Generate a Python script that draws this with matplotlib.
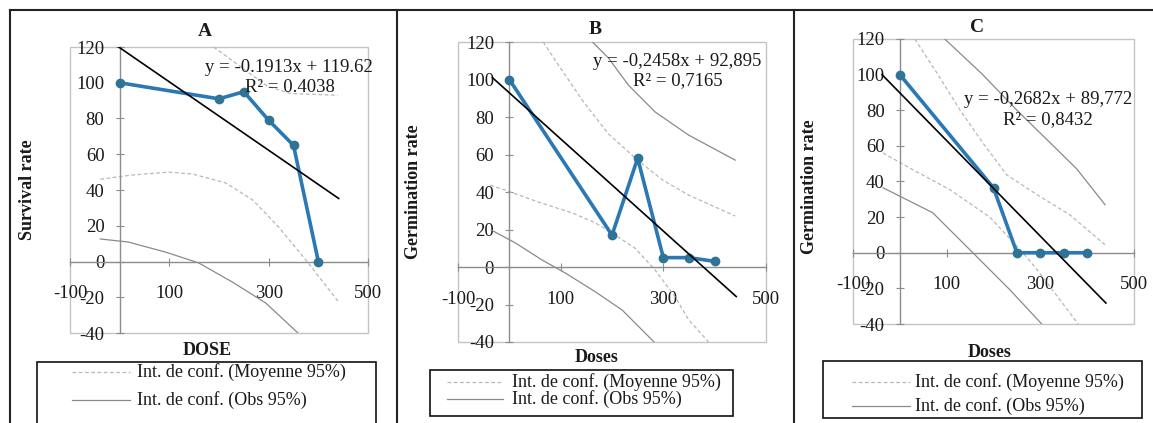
import matplotlib

matplotlib.use("Agg")
import matplotlib.pyplot as plt  # noqa: E402
import numpy as np  # noqa: E402
from matplotlib.lines import Line2D  # noqa: E402
from matplotlib.patches import Rectangle  # noqa: E402

W, H = 1153, 423
DPI = 100
plt.rcParams["font.family"] = ["Liberation Serif", "DejaVu Serif"]
plt.rcParams["axes.unicode_minus"] = False

BLUE = "#2A78B4"
MARK = "#2F7396"
OBS = "#8A8A8A"
MEAN = "#B8B8B8"
AXIS = "#8C8C8C"
FRAME = "#C4C4C4"
INK = "#1a1a1a"

# ---- data ----
doses = [0, 200, 250, 300, 350, 400]
survival_a = [100, 91, 95, 79, 65, 0]
germ_b = [100, 17, 58, 5, 5, 3]
germ_c = [100, 36.4, 0, 0, 0, 0]

# trend lines: slope, intercept, x-range drawn
trend_a = (-0.1913, 119.62, [-33, 441])
trend_b = (-0.2458, 92.895, [-33, 442])
trend_c = (-0.2682, 89.772, [-38, 440])

# confidence curves (x, y)
a_mean_up_x = [189, 209, 258, 298, 344, 439]
a_mean_up_y = [120, 116, 106, 98, 94, 93]
a_mean_lo_x = [-39, 25, 100, 146, 213, 268, 320, 375, 441]
a_mean_lo_y = [46, 48.4, 50, 49, 44, 34.4, 19.3, 0.8, -22.7]
a_obs_lo_x = [-39, 17, 92, 159, 227, 294, 359]
a_obs_lo_y = [12.6, 10.9, 5.3, -0.8, -11.5, -23.2, -40]

b_mean_up_x = [66, 90, 142, 193, 250, 298, 349, 440]
b_mean_up_y = [120, 110, 89, 71, 57, 46.5, 38.4, 27.2]
b_obs_up_x = [162, 193, 232, 284, 349, 440]
b_obs_up_y = [120, 111.5, 97, 82.7, 70.4, 57]
b_mean_lo_x = [-37, 2, 56, 123, 168, 201, 245, 284, 323, 349, 388]
b_mean_lo_y = [43.7, 40, 34.7, 28.8, 23.5, 18, 10, -1.6, -16, -28, -40]
b_obs_lo_x = [-35, 12, 64, 109, 168, 220, 282]
b_obs_lo_y = [19.7, 12.8, 3.7, -3.2, -13.3, -23, -40]

c_mean_up_x = [32, 79, 128, 177, 228, 293, 363, 438]
c_mean_up_y = [120, 101, 80.3, 61.8, 43.8, 32.6, 21.3, 4.5]
c_obs_up_x = [96, 177, 250, 320, 378, 438]
c_obs_up_y = [120, 100, 80, 62, 47, 27]
c_mean_lo_x = [-36, 28, 107, 192, 263, 293, 381]
c_mean_lo_y = [56, 46.6, 35.4, 20, 0, -9.5, -40]
c_obs_lo_x = [-36, 70, 143, 235, 303]
c_obs_lo_y = [36.5, 22.5, 3.4, -20.8, -40]

x_ticks = [-100, 100, 300, 500]
y_ticks = [-40, -20, 0, 20, 40, 60, 80, 100, 120]
LEG_MEAN = "Int. de conf. (Moyenne 95%)"
LEG_OBS = "Int. de conf. (Obs 95%)"


def fx(x):
    return x / W


def fy(y):
    return 1 - y / H


def panel(fig, box, y, trend, mean_curves, obs_curves, title, ylab, xlab, eq, pos):
    l, t, r, b = box
    ax = fig.add_axes([fx(l), fy(b), (r - l) / W, (b - t) / H])
    ax.set_xlim(-100, 500)
    ax.set_ylim(-40, 120)
    ax.patch.set_alpha(0)
    for s in ("top", "right"):
        ax.spines[s].set_visible(False)
    for s in ("left", "bottom"):
        ax.spines[s].set_position(("data", 0))
        ax.spines[s].set_color(AXIS)
        ax.spines[s].set_linewidth(1.0)
    ax.add_patch(Rectangle((0, 0), 1, 1, transform=ax.transAxes, fill=False,
                           ec=FRAME, lw=1.0, clip_on=False, zorder=0))
    ax.set_xticks(x_ticks)
    ax.set_yticks(y_ticks)
    ax.tick_params(axis="x", direction="inout", length=6, width=0.8, color=AXIS,
                   labelcolor=INK, labelsize=13.5, pad=14)
    ax.tick_params(axis="y", direction="inout", length=6, width=0.8, color=AXIS,
                   labelcolor=INK, labelsize=13.5, pad=8)

    for cx, cy in mean_curves:
        ax.plot(cx, cy, color=MEAN, lw=0.9, ls=(0, (3, 2)), zorder=2)
    for cx, cy in obs_curves:
        ax.plot(cx, cy, color=OBS, lw=0.9, zorder=2)

    m, c0, xr = trend
    xr = np.array(xr, dtype=float)
    ax.plot(xr, m * xr + c0, color="black", lw=1.2, zorder=4)
    ax.plot(doses, y, color=BLUE, lw=2.6, marker="o", ms=6, mfc=MARK, mec=MARK,
            zorder=3, clip_on=False)

    tx, ty, ylx, yly, xlx, xly, ex, ey, rx, ry = pos
    fig.text(fx(tx), fy(ty), title, ha="center", va="center", fontsize=14,
             fontweight="bold", color=INK)
    fig.text(fx(ylx), fy(yly), ylab, ha="center", va="center", rotation=90,
             fontsize=13, fontweight="bold", color=INK)
    fig.text(fx(xlx), fy(xly), xlab, ha="center", va="center", fontsize=13,
             fontweight="bold", color=INK)
    fig.text(fx(ex), fy(ey), eq[0], ha="center", va="center", fontsize=13.5, color=INK)
    fig.text(fx(rx), fy(ry), eq[1], ha="center", va="center", fontsize=13.5, color=INK)
    return ax


def legend(fig, box, line_x, text_x, rows):
    l, t, r, b = box
    fig.add_artist(Rectangle((fx(l), fy(b)), (r - l) / W, (b - t) / H,
                             transform=fig.transFigure, fill=False, ec="#111111",
                             lw=1.2))
    for (style, col, lab), ry in zip(
            [((0, (3, 2)), MEAN, LEG_MEAN), ("-", OBS, LEG_OBS)], rows):
        fig.add_artist(Line2D([fx(line_x[0]), fx(line_x[1])], [fy(ry), fy(ry)],
                              transform=fig.transFigure, color=col, lw=0.9, ls=style))
        fig.text(fx(text_x), fy(ry), lab, ha="left", va="center", fontsize=13,
                 color=INK)


fig = plt.figure(figsize=(W / DPI, H / DPI), dpi=DPI)

panel(fig, (70, 47, 368, 333), survival_a, trend_a,
      [(a_mean_up_x, a_mean_up_y), (a_mean_lo_x, a_mean_lo_y)],
      [(a_obs_lo_x, a_obs_lo_y)],
      "A", "Survival rate", "DOSE",
      ("y = -0.1913x + 119.62", "R² = 0.4038"),
      (205, 31, 28, 190, 207, 350, 289, 67, 290, 88))
legend(fig, (37, 362, 376, 440), (72, 130), 137, (372, 400))

panel(fig, (458, 42, 766, 342), germ_b, trend_b,
      [(b_mean_up_x, b_mean_up_y), (b_mean_lo_x, b_mean_lo_y)],
      [(b_obs_up_x, b_obs_up_y), (b_obs_lo_x, b_obs_lo_y)],
      "B", "Germination rate", "Doses",
      ("y = -0,2458x + 92,895", "R² = 0,7165"),
      (595, 30, 413, 192, 597, 357, 677, 62, 678, 81))
legend(fig, (430, 370, 733, 416), (447, 503), 512, (382, 399))

panel(fig, (853, 39, 1134, 324), germ_c, trend_c,
      [(c_mean_up_x, c_mean_up_y), (c_mean_lo_x, c_mean_lo_y)],
      [(c_obs_up_x, c_obs_up_y), (c_obs_lo_x, c_obs_lo_y)],
      "C", "Germination rate", "Doses",
      ("y = -0,2682x + 89,772", "R² = 0,8432"),
      (977, 28, 810, 187, 990, 352, 1048, 100, 1048, 120))
legend(fig, (823, 361, 1142, 418), (852, 910), 915, (382, 406))

# table cell borders around the three panels
fig.add_artist(Line2D([fx(10), 1], [fy(10), fy(10)], transform=fig.transFigure,
                      color="#222222", lw=1.5))
for xb in (10, 397, 794):
    fig.add_artist(Line2D([fx(xb), fx(xb)], [fy(10), 0], transform=fig.transFigure,
                          color="#222222", lw=1.5))

fig.savefig("out.png", dpi=DPI)
